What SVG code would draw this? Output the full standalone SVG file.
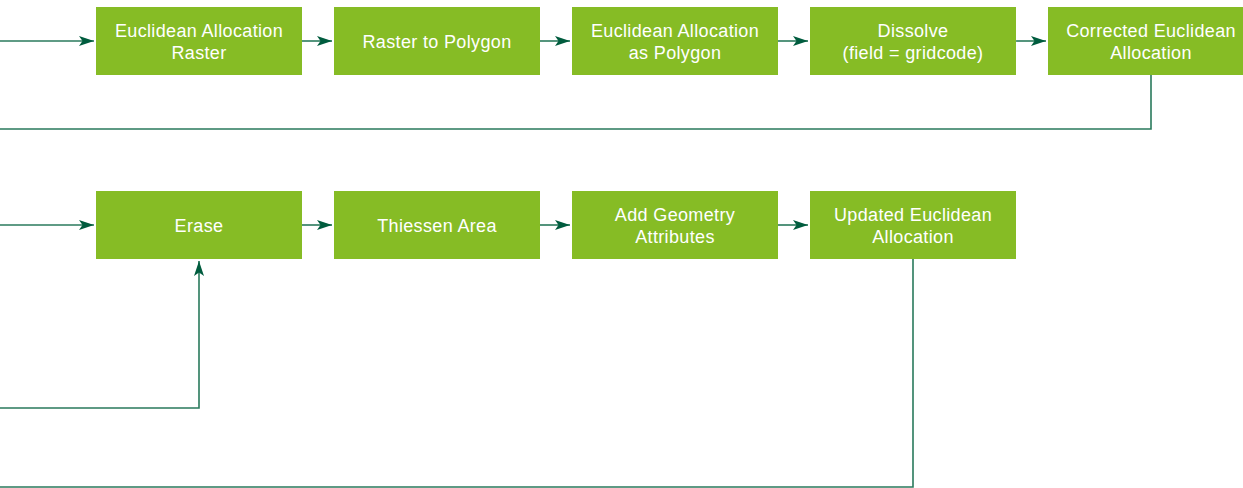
<svg xmlns="http://www.w3.org/2000/svg" width="1243" height="488" viewBox="0 0 1243 488">
<defs>
<marker id="arr" markerWidth="15" markerHeight="12" refX="15" refY="6" orient="auto" markerUnits="userSpaceOnUse">
<path d="M0,1 L15,6 L0,11 L3.5,6 Z" fill="#005c3e"/>
</marker>
<style>
.box{fill:#86bc25;}
.t{font-family:"Liberation Sans",Arial,sans-serif;font-size:18px;letter-spacing:0.35px;fill:#ffffff;text-anchor:middle;}
.c{fill:none;stroke:#2a7a5c;stroke-width:1.6;}
</style>
</defs>
<rect width="1243" height="488" fill="#ffffff"/>
<g id="connectors">
<path class="c" d="M0,41 H94" marker-end="url(#arr)"/>
<path class="c" d="M302,41 H332" marker-end="url(#arr)"/>
<path class="c" d="M540,41 H570" marker-end="url(#arr)"/>
<path class="c" d="M778,41 H808" marker-end="url(#arr)"/>
<path class="c" d="M1016,41 H1046" marker-end="url(#arr)"/>
<path class="c" d="M1151,75 V129 H0"/>
<path class="c" d="M0,225 H94" marker-end="url(#arr)"/>
<path class="c" d="M302,225 H332" marker-end="url(#arr)"/>
<path class="c" d="M540,225 H570" marker-end="url(#arr)"/>
<path class="c" d="M778,225 H808" marker-end="url(#arr)"/>
<path class="c" d="M0,408 H199 V261" marker-end="url(#arr)"/>
<path class="c" d="M913,259 V487 H0"/>
</g>
<g id="n1"><rect class="box" x="96" y="7" width="206" height="68"/><text class="t" x="199" y="37">Euclidean Allocation</text><text class="t" x="199" y="59">Raster</text></g>
<g id="n2"><rect class="box" x="334" y="7" width="206" height="68"/><text class="t" x="437" y="48">Raster to Polygon</text></g>
<g id="n3"><rect class="box" x="572" y="7" width="206" height="68"/><text class="t" x="675" y="37">Euclidean Allocation</text><text class="t" x="675" y="59">as Polygon</text></g>
<g id="n4"><rect class="box" x="810" y="7" width="206" height="68"/><text class="t" x="913" y="37">Dissolve</text><text class="t" x="913" y="59">(field = gridcode)</text></g>
<g id="n5"><rect class="box" x="1048" y="7" width="206" height="68"/><text class="t" x="1151" y="37">Corrected Euclidean</text><text class="t" x="1151" y="59">Allocation</text></g>
<g id="n6"><rect class="box" x="96" y="191" width="206" height="68"/><text class="t" x="199" y="232">Erase</text></g>
<g id="n7"><rect class="box" x="334" y="191" width="206" height="68"/><text class="t" x="437" y="232">Thiessen Area</text></g>
<g id="n8"><rect class="box" x="572" y="191" width="206" height="68"/><text class="t" x="675" y="221">Add Geometry</text><text class="t" x="675" y="243">Attributes</text></g>
<g id="n9"><rect class="box" x="810" y="191" width="206" height="68"/><text class="t" x="913" y="221">Updated Euclidean</text><text class="t" x="913" y="243">Allocation</text></g>
</svg>
